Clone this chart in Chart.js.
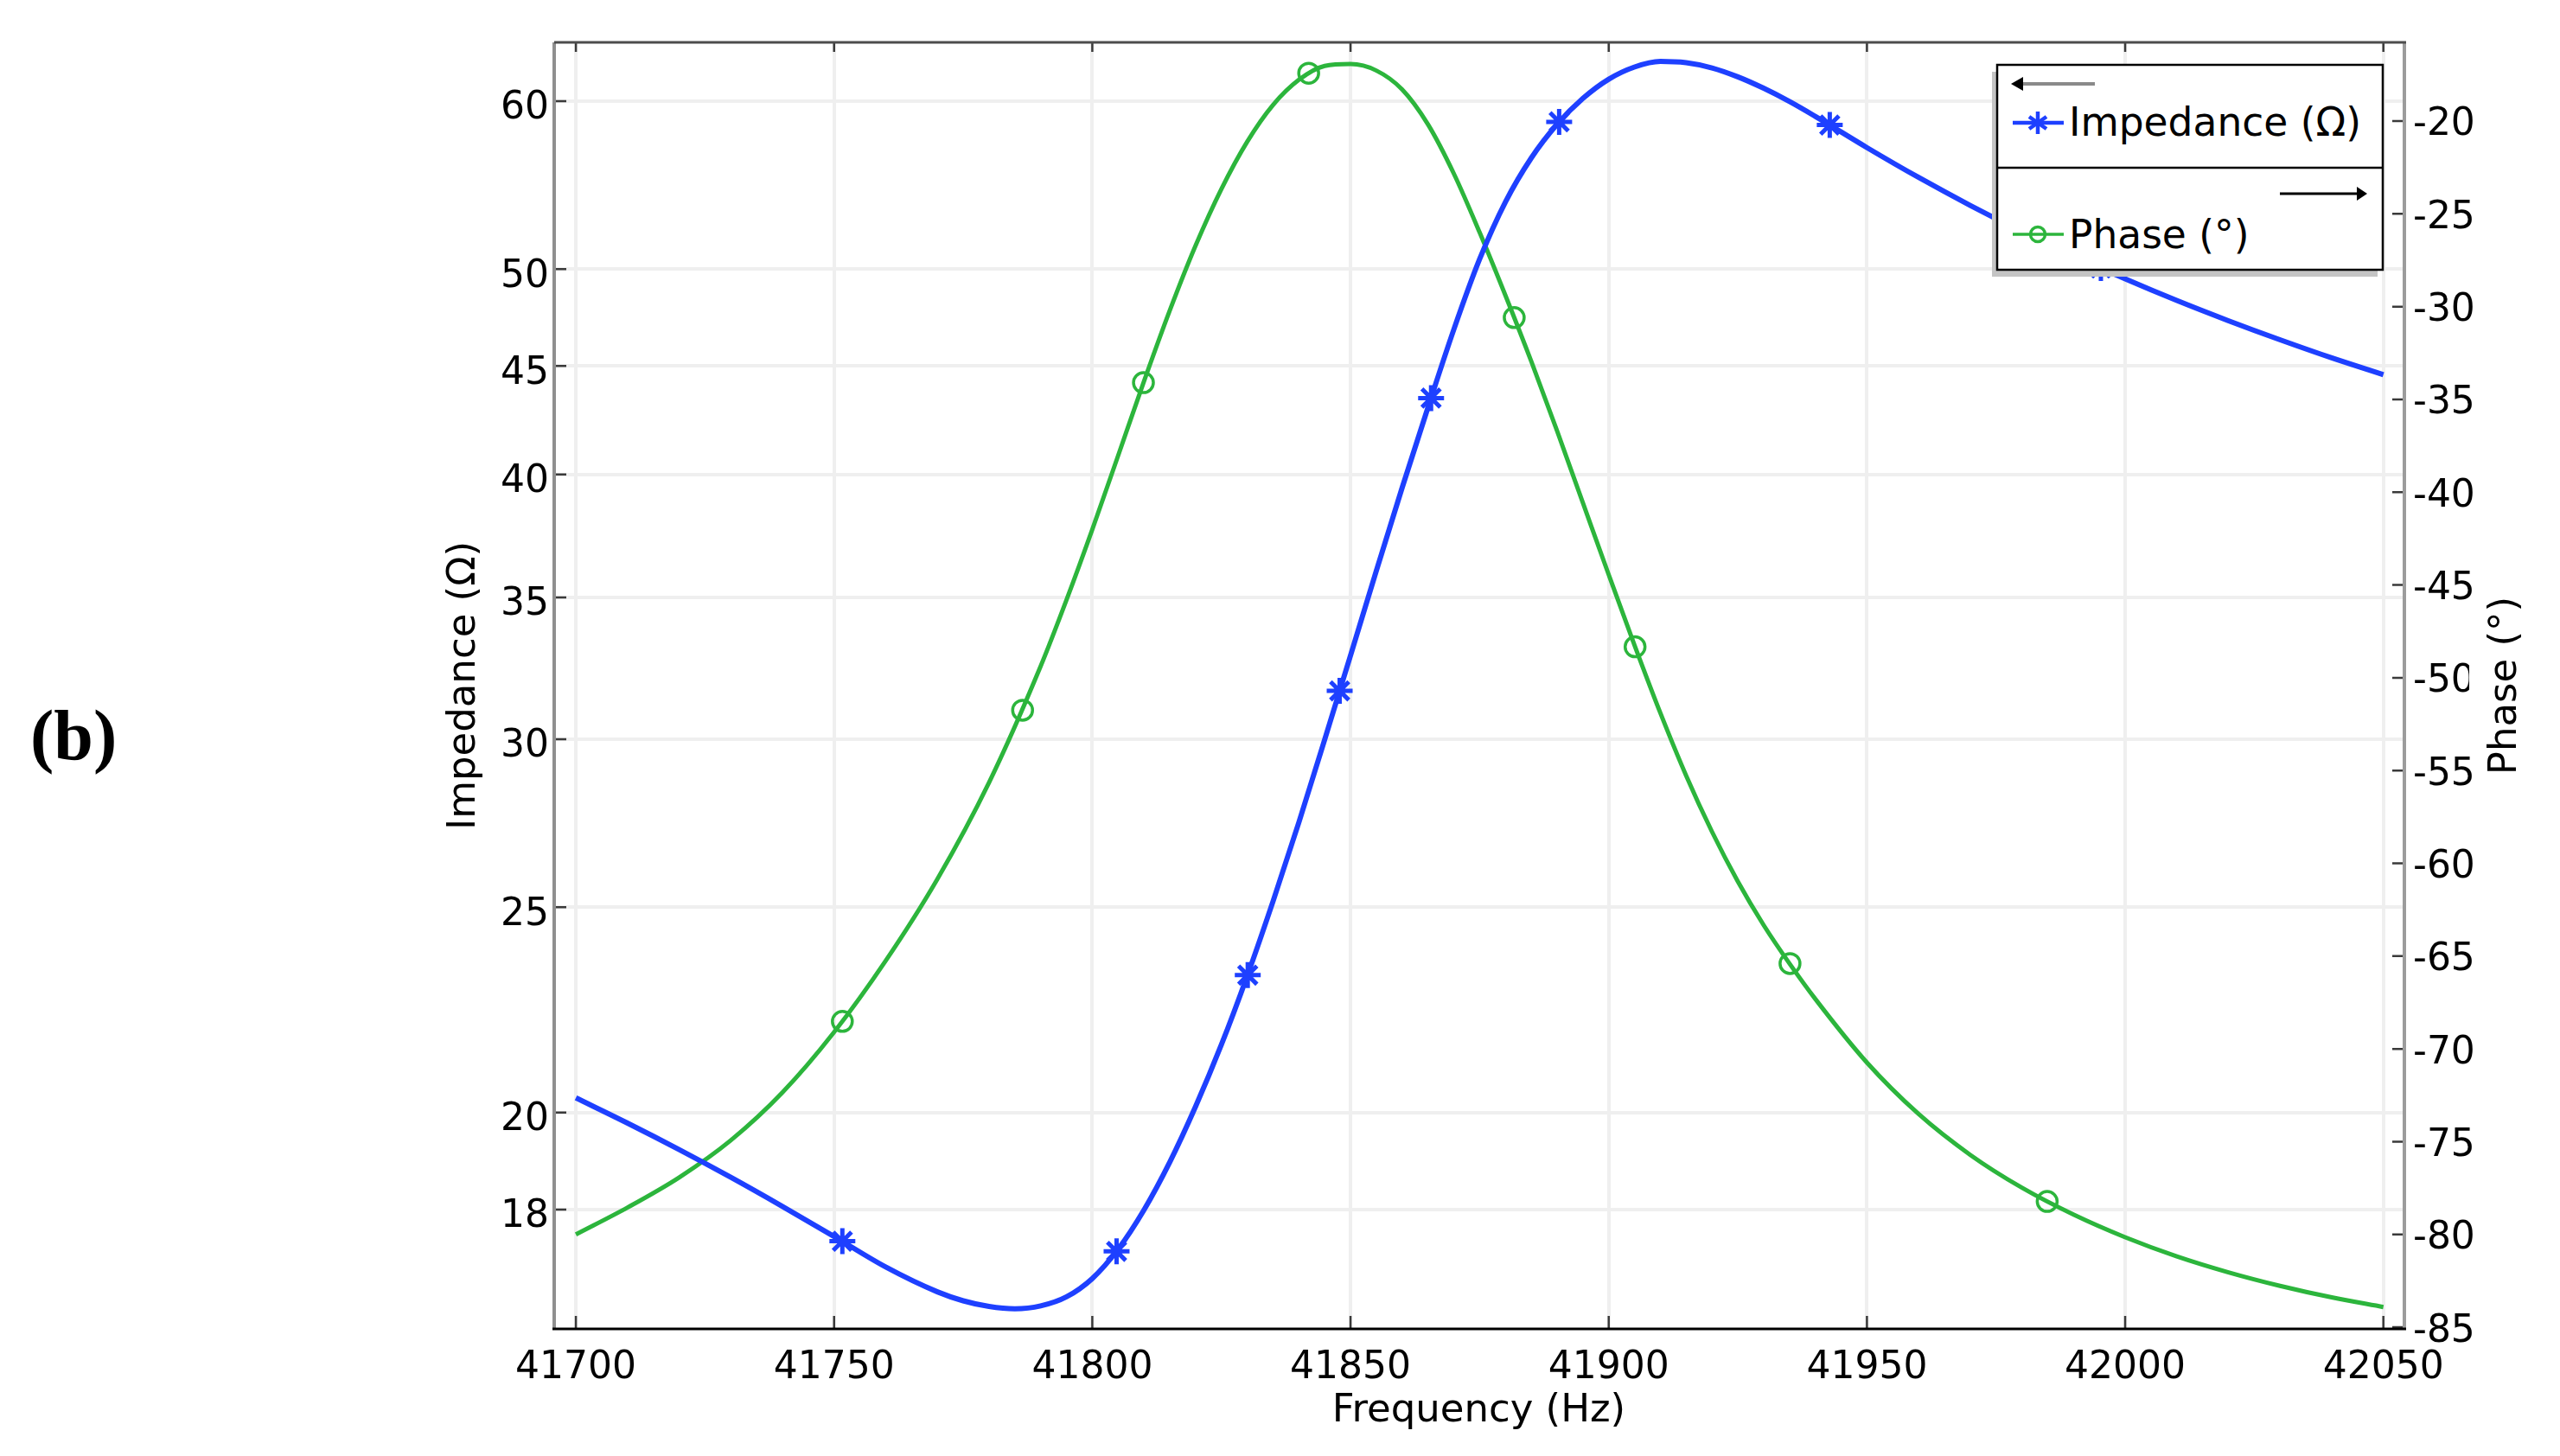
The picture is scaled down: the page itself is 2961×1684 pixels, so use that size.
<!DOCTYPE html>
<html><head><meta charset="utf-8">
<script src="https://cdn.jsdelivr.net/npm/chart.js@4.4.1/dist/chart.umd.min.js"></script>
<style>
html,body{margin:0;padding:0;background:#fff;}
#wrap{position:relative;width:2961px;height:1684px;overflow:hidden;background:#fff;}
#c{position:absolute;left:0;top:0;}
#lbl{position:absolute;left:35px;top:810px;font-family:'Liberation Serif',serif;font-weight:bold;font-size:82px;line-height:82px;color:#000;}
#legend{position:absolute;left:0;top:0;}
</style></head><body>
<div id="wrap">
<canvas id="c" width="2961" height="1684"></canvas>
<div id="lbl">(b)</div>
<svg id="legend" width="2961" height="1684" xmlns="http://www.w3.org/2000/svg">
  <rect x="2304" y="83" width="446" height="237" fill="#c4c4c4"/>
  <rect x="2310" y="75" width="446" height="237" fill="#fff" stroke="#000" stroke-width="2.5"/>
  <line x1="2310" y1="194" x2="2756" y2="194" stroke="#000" stroke-width="2.5"/>
  <line x1="2336" y1="97" x2="2423" y2="97" stroke="#8a8a8a" stroke-width="4"/>
  <polygon points="2326,97 2340,89 2340,105" fill="#000"/>
  <line x1="2637" y1="224" x2="2728" y2="224" stroke="#000" stroke-width="3"/>
  <polygon points="2738,224 2726,216 2726,232" fill="#000"/>
  <line x1="2328" y1="142" x2="2387" y2="142" stroke="#1e40ff" stroke-width="4.5"/>
  <g stroke="#1e40ff" stroke-width="4.5" stroke-linecap="butt">
    <line x1="2357" y1="129" x2="2357" y2="155"/>
    <line x1="2347" y1="135" x2="2367" y2="149"/>
    <line x1="2347" y1="149" x2="2367" y2="135"/>
  </g>
  <line x1="2328" y1="271" x2="2387" y2="271" stroke="#2cb53c" stroke-width="3.5"/>
  <circle cx="2357" cy="271" r="8.5" fill="none" stroke="#2cb53c" stroke-width="3.5"/>
  <text x="2393" y="157" font-family="DejaVu Sans" font-size="45.5" fill="#000">Impedance (Ω)</text>
  <text x="2393" y="287" font-family="DejaVu Sans" font-size="45.5" fill="#000">Phase (°)</text>
</svg>
</div>
<script>
// ---- data ----
const xTicks = [41700, 41750, 41800, 41850, 41900, 41950, 42000, 42050];
const impTicks = [18, 20, 25, 30, 35, 40, 45, 50, 60];
const phaseTicks = [-85, -80, -75, -70, -65, -60, -55, -50, -45, -40, -35, -30, -25, -20];

// Impedance curve (Ohm)
const impFreq = [41700, 41710, 41720, 41730, 41740, 41750, 41760, 41770, 41775, 41780,
  41785, 41790, 41795, 41800, 41805, 41810, 41815, 41820, 41825, 41830,
  41835, 41840, 41845, 41850, 41855, 41860, 41865, 41870, 41875, 41880,
  41885, 41890, 41895, 41900, 41905, 41910, 41915, 41920, 41925, 41930,
  41935, 41940, 41950, 41960, 41970, 41980, 41990, 42000, 42010, 42020,
  42030, 42040, 42050];
const impedance = [20.32, 19.77, 19.21, 18.64, 18.06, 17.48, 16.91, 16.46, 16.30, 16.20,
  16.16, 16.21, 16.37, 16.70, 17.24, 17.99, 18.95, 20.13, 21.53, 23.20,
  25.16, 27.41, 29.99, 32.86, 36.03, 39.43, 43.02, 46.82, 50.54, 53.78,
  56.41, 58.51, 60.18, 61.45, 62.27, 62.65, 62.56, 62.21, 61.61, 60.85,
  59.98, 59.02, 57.05, 55.23, 53.58, 52.08, 50.72, 49.47, 48.32, 47.27,
  46.30, 45.40, 44.58];
// Impedance markers (asterisks)
const impMarkerFreq = [41751.6, 41804.7, 41830.1, 41847.9, 41865.6, 41890.4, 41942.8, 41995.3];
const impMarkerVal = [17.39, 17.20, 23.22, 31.62, 43.46, 58.67, 58.47, 50.06];

// Phase curve (degrees)
const phaseFreq = [41700, 41710, 41720, 41730, 41740, 41750, 41760, 41770, 41780, 41790,
  41795, 41800, 41805, 41810, 41815, 41820, 41825, 41830, 41835, 41840,
  41845, 41850, 41855, 41860, 41865, 41870, 41875, 41880, 41885, 41890,
  41895, 41900, 41905, 41910, 41915, 41920, 41925, 41930, 41935, 41940,
  41950, 41960, 41970, 41980, 41990, 42000, 42010, 42020, 42030, 42040,
  42050];
const phase = [-80.0, -78.55, -76.93, -74.93, -72.35, -69.1, -65.25, -60.85, -55.65, -49.38,
  -45.81, -42.01, -38.03, -34.03, -30.21, -26.71, -23.66, -21.11, -19.13, -17.78,
  -17.03, -16.93, -17.28, -18.3, -20.18, -22.83, -26.0, -29.4, -32.95, -36.7,
  -40.58, -44.45, -48.25, -51.9, -55.28, -58.3, -60.98, -63.33, -65.4, -67.31,
  -70.74, -73.51, -75.71, -77.48, -78.93, -80.15, -81.18, -82.04, -82.77, -83.39,
  -83.91];
// Phase markers (open circles)
const phaseMarkerFreq = [41751.6, 41786.5, 41809.9, 41841.9, 41881.7, 41905.1, 41935.1, 41984.9];
const phaseMarkerVal = [-68.52, -51.75, -34.1, -17.42, -30.59, -48.33, -65.4, -78.22];

const BLUE = '#1e40ff', GREEN = '#2cb53c';

const decor = {
  id: 'decor',
  afterDraw(chart) {
    const {ctx, chartArea: a, scales} = chart;
    ctx.save();
    // inward tick marks
    ctx.strokeStyle = '#3a3a3a';
    ctx.lineWidth = 2.5;
    ctx.beginPath();
    scales.x.ticks.forEach(t => {
      const px = scales.x.getPixelForValue(t.value);
      ctx.moveTo(px, a.bottom); ctx.lineTo(px, a.bottom - 15);
      ctx.moveTo(px, a.top); ctx.lineTo(px, a.top + 11);
    });
    scales.yZ.ticks.forEach(t => {
      const py = scales.yZ.getPixelForValue(t.value);
      ctx.moveTo(a.left, py); ctx.lineTo(a.left + 14, py);
    });
    scales.yP.ticks.forEach(t => {
      const py = scales.yP.getPixelForValue(t.value);
      ctx.moveTo(a.right, py); ctx.lineTo(a.right - 13, py);
    });
    ctx.stroke();
    // frame
    ctx.lineWidth = 4;
    ctx.strokeStyle = '#8f8f8f';
    ctx.beginPath(); ctx.moveTo(a.left, a.top); ctx.lineTo(a.left, a.bottom); ctx.stroke();
    ctx.strokeStyle = '#9c9c9c';
    ctx.beginPath(); ctx.moveTo(a.right + 1, a.top); ctx.lineTo(a.right + 1, a.bottom); ctx.stroke();
    ctx.lineWidth = 3;
    ctx.strokeStyle = '#4d4d4d';
    ctx.beginPath(); ctx.moveTo(a.left, a.top); ctx.lineTo(a.right + 3, a.top); ctx.stroke();
    ctx.strokeStyle = '#000';
    ctx.beginPath(); ctx.moveTo(a.left - 2, a.bottom); ctx.lineTo(a.right + 3, a.bottom); ctx.stroke();
    // right axis title (reads bottom to top)
    const cy = (a.top + a.bottom) / 2;
    ctx.fillStyle = '#fff';
    ctx.fillRect(a.right + 76, cy - 92, 70, 170);
    ctx.fillStyle = '#000';
    ctx.font = '45px "DejaVu Sans"';
    ctx.translate(a.right + 118, cy);
    ctx.rotate(-Math.PI / 2);
    ctx.textAlign = 'center';
    ctx.textBaseline = 'middle';
    ctx.fillText('Phase (°)', 0, 0);
    ctx.restore();
  }
};

Chart.defaults.font.family = 'DejaVu Sans';
Chart.defaults.font.size = 44;
Chart.defaults.color = '#000';

const pts = (xs, ys) => xs.map((x, i) => ({x: x, y: ys[i]}));

new Chart(document.getElementById('c'), {
  type: 'line',
  data: {
    datasets: [
      {
        label: 'Impedance markers',
        data: pts(impMarkerFreq, impMarkerVal),
        yAxisID: 'yZ',
        showLine: false,
        order: 0,
        pointStyle: 'star',
        pointRadius: 15,
        pointBorderColor: BLUE,
        pointBackgroundColor: BLUE,
        pointBorderWidth: 5
      },
      {
        label: 'Phase markers',
        data: pts(phaseMarkerFreq, phaseMarkerVal),
        yAxisID: 'yP',
        showLine: false,
        order: 0,
        pointStyle: 'circle',
        pointRadius: 11.5,
        pointBorderColor: GREEN,
        pointBackgroundColor: 'rgba(0,0,0,0)',
        pointBorderWidth: 3.5
      },
      {
        label: 'Impedance (Ω)',
        data: pts(impFreq, impedance),
        yAxisID: 'yZ',
        order: 1,
        borderColor: BLUE,
        borderWidth: 6,
        cubicInterpolationMode: 'monotone',
        pointRadius: 0
      },
      {
        label: 'Phase (°)',
        data: pts(phaseFreq, phase),
        yAxisID: 'yP',
        order: 2,
        borderColor: GREEN,
        borderWidth: 5,
        cubicInterpolationMode: 'monotone',
        pointRadius: 0
      }
    ]
  },
  options: {
    responsive: false,
    devicePixelRatio: 1,
    animation: false,
    layout: {padding: {top: 49, left: 0, right: 0, bottom: 0}},
    plugins: {legend: {display: false}, tooltip: {enabled: false}},
    scales: {
      x: {
        type: 'linear',
        position: 'bottom',
        min: 41695.8,
        max: 42053.9,
        afterBuildTicks: s => { s.ticks = xTicks.map(v => ({value: v})); },
        afterFit: s => { s.height = 147; },
        ticks: {padding: 19, maxRotation: 0, autoSkip: false, callback: v => String(v)},
        grid: {color: '#efefef', lineWidth: 4, drawTicks: false},
        border: {display: false},
        title: {display: true, text: 'Frequency (Hz)', font: {size: 45}, padding: {top: 0, bottom: 25}}
      },
      yZ: {
        type: 'logarithmic',
        position: 'left',
        min: 15.81,
        max: 63.96,
        afterBuildTicks: s => { s.ticks = impTicks.map(v => ({value: v})); },
        afterFit: s => { s.width = 641; },
        ticks: {padding: 6, labelOffset: 9, autoSkip: false, callback: v => String(v)},
        grid: {color: '#efefef', lineWidth: 4, drawTicks: false},
        border: {display: false},
        title: {display: true, text: 'Impedance (Ω)', font: {size: 45}, padding: {top: 510, bottom: 0}}
      },
      yP: {
        type: 'linear',
        position: 'right',
        min: -85.09,
        max: -15.76,
        afterBuildTicks: s => { s.ticks = phaseTicks.map(v => ({value: v})); },
        afterFit: s => { s.width = 181; },
        ticks: {padding: 11, labelOffset: 5, autoSkip: false, callback: v => String(v)},
        grid: {display: false, drawTicks: false},
        border: {display: false},
        title: {display: false}
      }
    }
  },
  plugins: [decor]
});
</script>
</body></html>
